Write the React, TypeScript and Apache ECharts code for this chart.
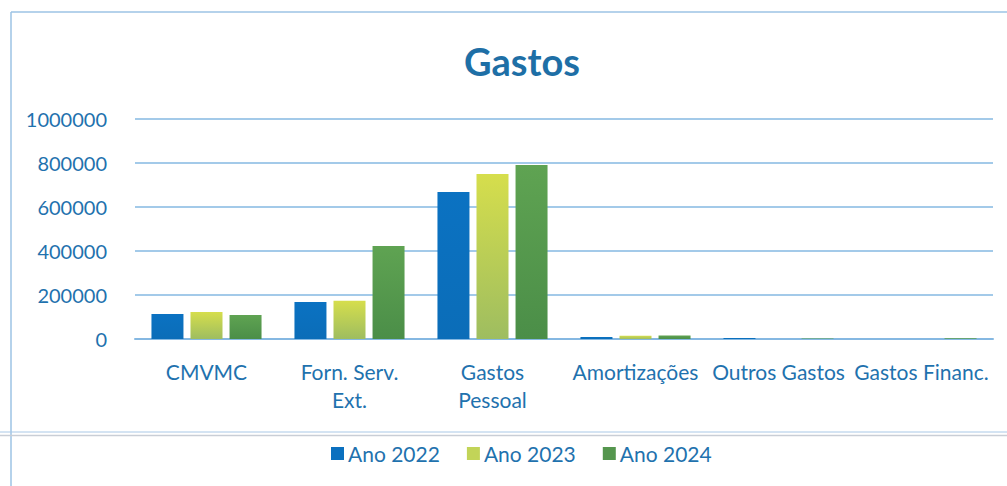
import React, { useEffect, useRef } from "react";
import * as echarts from "echarts";

const categories = ["CMVMC", "Forn. Serv.\nExt.", "Gastos\nPessoal", "Amortizações", "Outros Gastos", "Gastos Financ."];
const seriesNames = ["Ano 2022", "Ano 2023", "Ano 2024"];
const ano2022 = [114000, 168000, 668000, 9000, 4000, 0];
const ano2023 = [123000, 174000, 750000, 15000, 0, 0];
const ano2024 = [109000, 423000, 791000, 16000, 2000, 3000];
const yTicks = [0, 200000, 400000, 600000, 800000, 1000000];

const TEXT = "#1F72AE";
const FONT = "Lato, 'Open Sans', sans-serif";

export default function App() {
  const ref = useRef<HTMLDivElement>(null);
  useEffect(() => {
    if (!ref.current) return;
    const chart = echarts.init(ref.current, null, { renderer: "svg" });
    const grad = (a: string, b: string) =>
      new echarts.graphic.LinearGradient(0, 0, 0, 1, [
        { offset: 0, color: a },
        { offset: 1, color: b },
      ]);
    const colors = [
      grad("#0B72C2", "#0B6DB8"),
      grad("#D6DE4C", "#9EBD60"),
      grad("#5FA352", "#4B8E48"),
    ];
    const legendColors = ["#0B70BF", "#C2D458", "#55964E"];
    const data = [ano2022, ano2023, ano2024];
    chart.setOption({
      animation: false,
      backgroundColor: "#ffffff",
      title: {
        text: "Gastos",
        left: 517,
        textAlign: "center",
        top: 37,
        textStyle: { color: "#1E6FA6", fontSize: 38, fontWeight: "bold", fontFamily: FONT },
      },
      color: legendColors,
      legend: {
        data: seriesNames.map((n, i) => ({ name: n, itemStyle: { color: legendColors[i] } })),
        top: 438,
        left: 326,
        itemWidth: 13,
        itemHeight: 13,
        itemGap: 27,
        icon: "rect",
        textStyle: { color: TEXT, fontSize: 21, fontFamily: FONT, padding: [0, 0, 0, -1] },
      },
      grid: { left: 135, right: 14, top: 119, bottom: 147 },
      xAxis: {
        type: "category",
        data: categories,
        axisLine: { lineStyle: { color: "#85B8E2", width: 2 } },
        axisTick: { show: false },
        axisLabel: {
          color: TEXT,
          fontSize: 21,
          fontFamily: FONT,
          margin: 18,
          lineHeight: 28,
          interval: 0,
        },
      },
      yAxis: {
        type: "value",
        min: 0,
        max: 1000000,
        interval: 200000,
        axisLine: { show: false },
        axisTick: { show: false },
        splitLine: { lineStyle: { color: "#85B8E2", width: 1.5 } },
        axisLabel: {
          color: TEXT,
          fontSize: 20,
          fontFamily: FONT,
          margin: 28,
          formatter: (v: number) => (yTicks.includes(v) ? String(v) : ""),
        },
      },
      series: seriesNames.map((name, i) => ({
        name,
        type: "bar",
        data: data[i],
        barWidth: 32,
        barGap: "22%",
        itemStyle: { color: colors[i] },
      })),
      graphic: [
        { type: "line", shape: { x1: 11, y1: 12, x2: 1007, y2: 12 }, style: { stroke: "#9CC3E4", lineWidth: 1.5 } },
        { type: "line", shape: { x1: 11, y1: 12, x2: 11, y2: 486 }, style: { stroke: "#9CC3E4", lineWidth: 1.5 } },
        { type: "line", shape: { x1: 0, y1: 432, x2: 1007, y2: 432 }, style: { stroke: "#A9C8E6", lineWidth: 1 } },
        { type: "line", shape: { x1: 0, y1: 435.5, x2: 1007, y2: 435.5 }, style: { stroke: "#C9CED6", lineWidth: 1.5 } },
      ],
    });
    return () => chart.dispose();
  }, []);
  return <div ref={ref} style={{ position: "absolute", left: 0, top: 0, width: 1007, height: 486 }} />;
}
